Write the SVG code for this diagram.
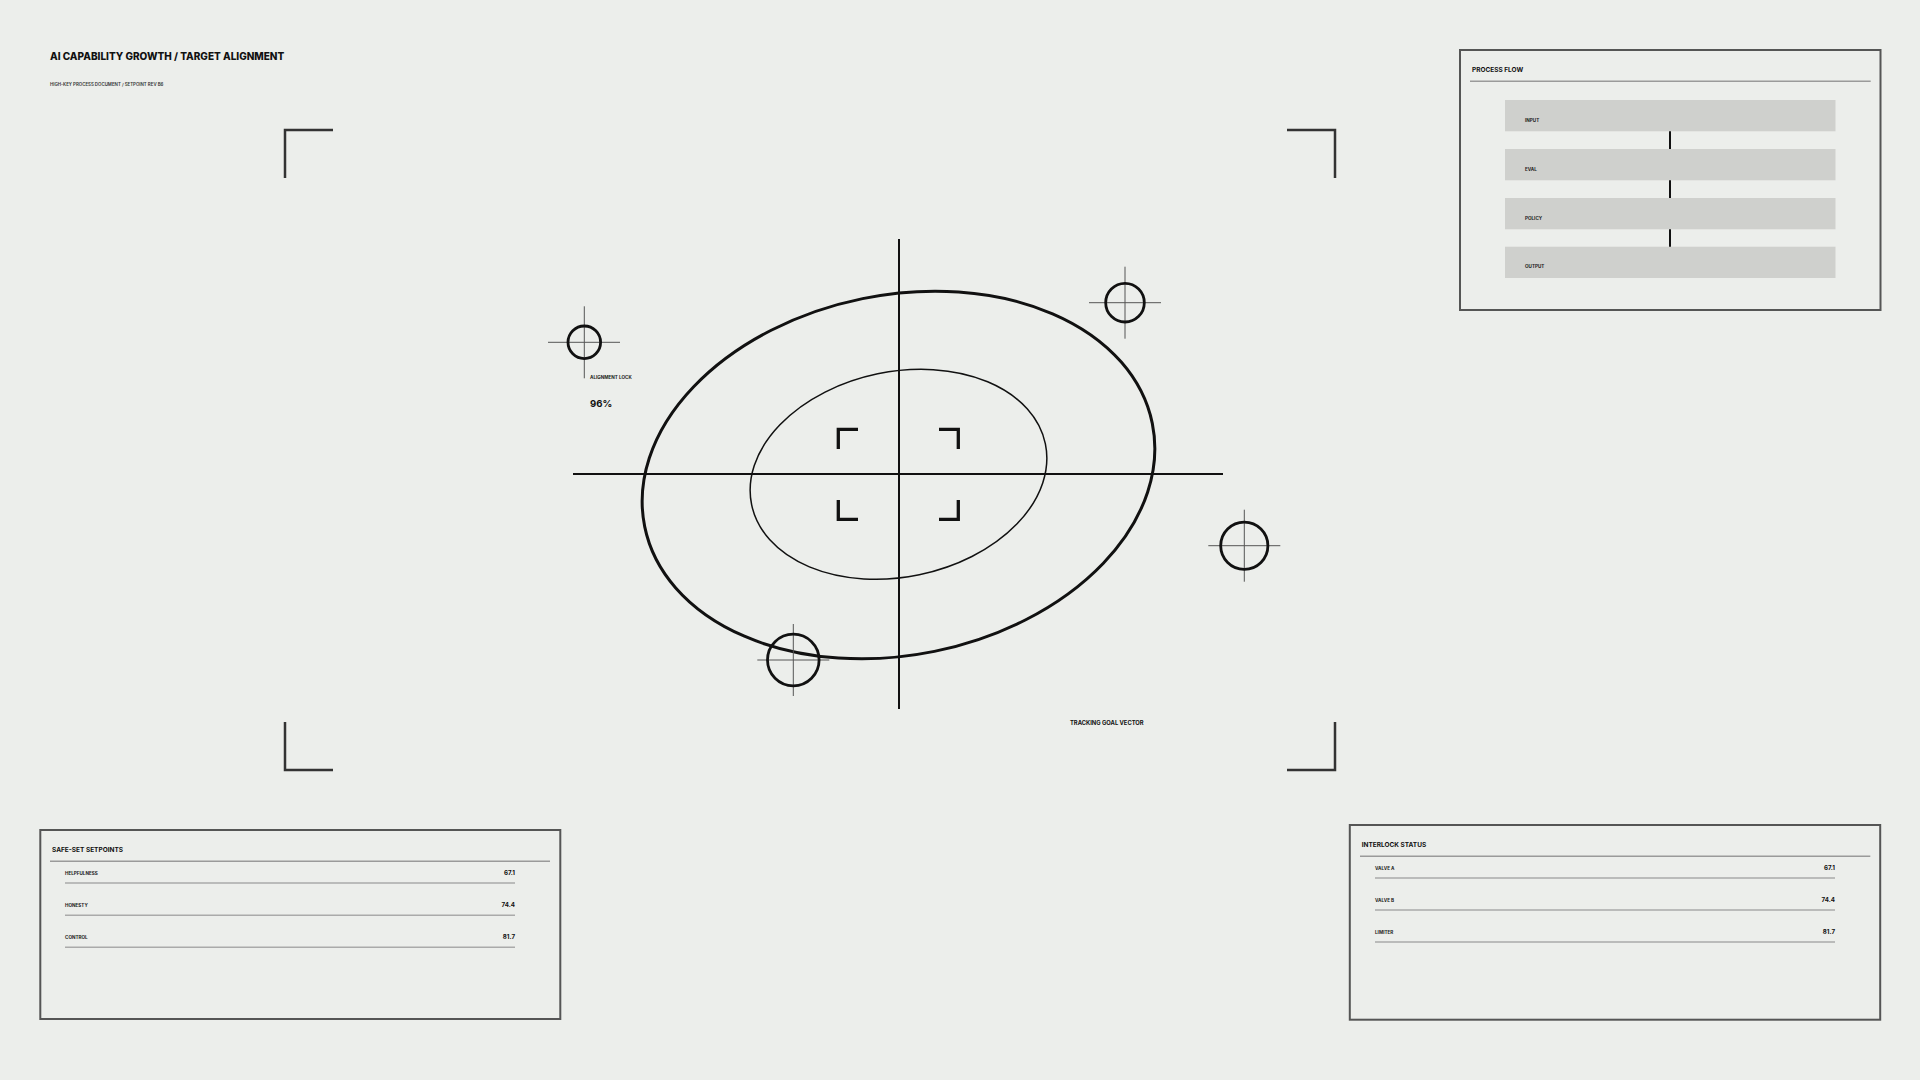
<svg xmlns="http://www.w3.org/2000/svg" width="1920" height="1080" viewBox="0 0 1920 1080">
<style>
.t{font-family:Inter,"Liberation Sans",sans-serif;font-weight:700;fill:#111}
.title{font-size:10px;font-weight:800}
.sub{font-size:4.4px;font-weight:600;fill:#333}
.ptitle{font-size:6.5px}
.lbl{font-size:4.6px;font-weight:700;fill:#222}
.val{font-size:6.2px;text-anchor:end}
.panel{fill:none;stroke:#555;stroke-width:2}
.div{stroke:#9a9a9a;stroke-width:1.5}
.row{stroke:#aaa;stroke-width:1.5}
.box{fill:#cfd0cd}
.corner{fill:none;stroke:#333;stroke-width:2.5}
.brk{fill:none;stroke:#111;stroke-width:3.3}
.ring{fill:none;stroke:#111;stroke-width:2.8}
.hair{stroke:#555;stroke-width:1}
.axis{stroke:#111;stroke-width:2}
.conn{stroke:#111;stroke-width:2}
</style>
<rect width="1920" height="1080" fill="#eceeeb"/>

<g id="header">
<text class="t title" x="50" y="60">AI CAPABILITY GROWTH / TARGET ALIGNMENT</text>
<text class="t sub" x="50" y="86">HIGH-KEY PROCESS DOCUMENT / SETPOINT REV B6</text>
</g>

<g id="frame-corners">
<path class="corner" d="M285,178 V130 H333"/>
<path class="corner" d="M1287,130 H1335 V178"/>
<path class="corner" d="M285,722 V770 H333"/>
<path class="corner" d="M1287,770 H1335 V722"/>
</g>

<g id="target">
<ellipse cx="898.5" cy="475" rx="259" ry="180" fill="none" stroke="#111" stroke-width="3" transform="rotate(-11.5 898.5 475)"/>
<ellipse cx="898.5" cy="474.3" rx="150" ry="102.6" fill="none" stroke="#111" stroke-width="1.5" transform="rotate(-11.7 898.5 474.3)"/>
<line class="axis" x1="899" y1="239" x2="899" y2="709"/>
<line class="axis" x1="573" y1="474" x2="1223" y2="474"/>
<path class="brk" d="M838.3,449 V429.3 H858"/>
<path class="brk" d="M939,429.3 H958.3 V449"/>
<path class="brk" d="M838.3,500 V519.3 H858"/>
<path class="brk" d="M939,519.3 H958.3 V500"/>
</g>

<g id="marker-alignment">
<line class="hair" x1="548" y1="342.3" x2="620" y2="342.3"/>
<line class="hair" x1="584.3" y1="306.3" x2="584.3" y2="378.3"/>
<circle class="ring" cx="584.3" cy="342.3" r="16.3"/>
<text class="t lbl" x="590" y="379" font-size="4.7">ALIGNMENT LOCK</text>
<text class="t" x="590" y="406.5" font-size="9.6">96%</text>
</g>

<g id="marker-ne">
<line class="hair" x1="1089" y1="302.7" x2="1161" y2="302.7"/>
<line class="hair" x1="1125" y1="266.7" x2="1125" y2="338.7"/>
<circle class="ring" cx="1125" cy="302.7" r="19.3"/>
</g>

<g id="marker-e">
<line class="hair" x1="1208.3" y1="545.7" x2="1280.3" y2="545.7"/>
<line class="hair" x1="1244.3" y1="509.7" x2="1244.3" y2="581.7"/>
<circle class="ring" cx="1244.3" cy="545.7" r="23.6"/>
</g>

<g id="marker-sw">
<line class="hair" x1="757.3" y1="660" x2="829.3" y2="660"/>
<line class="hair" x1="793.3" y1="624" x2="793.3" y2="696"/>
<circle class="ring" cx="793.3" cy="660" r="25.8"/>
</g>

<g id="tracking-label">
<text class="t" x="1070" y="725" font-size="5.8">TRACKING GOAL VECTOR</text>
</g>

<g id="process-flow">
<rect class="panel" x="1460" y="50" width="420.5" height="260"/>
<text class="t ptitle" x="1472" y="71.5">PROCESS FLOW</text>
<line class="div" x1="1470" y1="81.3" x2="1870.7" y2="81.3"/>
<g id="step-input"><rect class="box" x="1505" y="100" width="330.5" height="31.3"/><text class="t lbl" x="1525" y="121.7">INPUT</text></g>
<g id="step-eval"><rect class="box" x="1505" y="149" width="330.5" height="31.3"/><text class="t lbl" x="1525" y="170.7">EVAL</text></g>
<g id="step-policy"><rect class="box" x="1505" y="198" width="330.5" height="31.3"/><text class="t lbl" x="1525" y="219.7">POLICY</text></g>
<g id="step-output"><rect class="box" x="1505" y="246.7" width="330.5" height="31.3"/><text class="t lbl" x="1525" y="268.4">OUTPUT</text></g>
</g>

<g id="connectors">
<line class="conn" x1="1670" y1="131.3" x2="1670" y2="149"/>
<line class="conn" x1="1670" y1="180.3" x2="1670" y2="198"/>
<line class="conn" x1="1670" y1="229.3" x2="1670" y2="246.7"/>
</g>

<g id="safe-set-setpoints">
<rect class="panel" x="40.3" y="830" width="520" height="189"/>
<text class="t ptitle" x="52" y="851.7">SAFE-SET SETPOINTS</text>
<line class="div" x1="50" y1="861.3" x2="550" y2="861.3"/>
<text class="t lbl" x="65" y="874.8">HELPFULNESS</text><text class="t val" x="515" y="874.8">67.1</text>
<line class="row" x1="65" y1="883" x2="515" y2="883"/>
<text class="t lbl" x="65" y="906.8">HONESTY</text><text class="t val" x="515" y="906.8">74.4</text>
<line class="row" x1="65" y1="915.3" x2="515" y2="915.3"/>
<text class="t lbl" x="65" y="938.8">CONTROL</text><text class="t val" x="515" y="938.8">81.7</text>
<line class="row" x1="65" y1="947.3" x2="515" y2="947.3"/>
</g>

<g id="interlock-status">
<rect class="panel" x="1349.8" y="825" width="530.4" height="194.7"/>
<text class="t ptitle" x="1361.7" y="846.7">INTERLOCK STATUS</text>
<line class="div" x1="1360" y1="856.3" x2="1870.3" y2="856.3"/>
<text class="t lbl" x="1375" y="869.8">VALVE A</text><text class="t val" x="1835" y="869.8">67.1</text>
<line class="row" x1="1375" y1="878" x2="1835" y2="878"/>
<text class="t lbl" x="1375" y="901.8">VALVE B</text><text class="t val" x="1835" y="901.8">74.4</text>
<line class="row" x1="1375" y1="910" x2="1835" y2="910"/>
<text class="t lbl" x="1375" y="933.8">LIMITER</text><text class="t val" x="1835" y="933.8">81.7</text>
<line class="row" x1="1375" y1="942" x2="1835" y2="942"/>
</g>
</svg>
